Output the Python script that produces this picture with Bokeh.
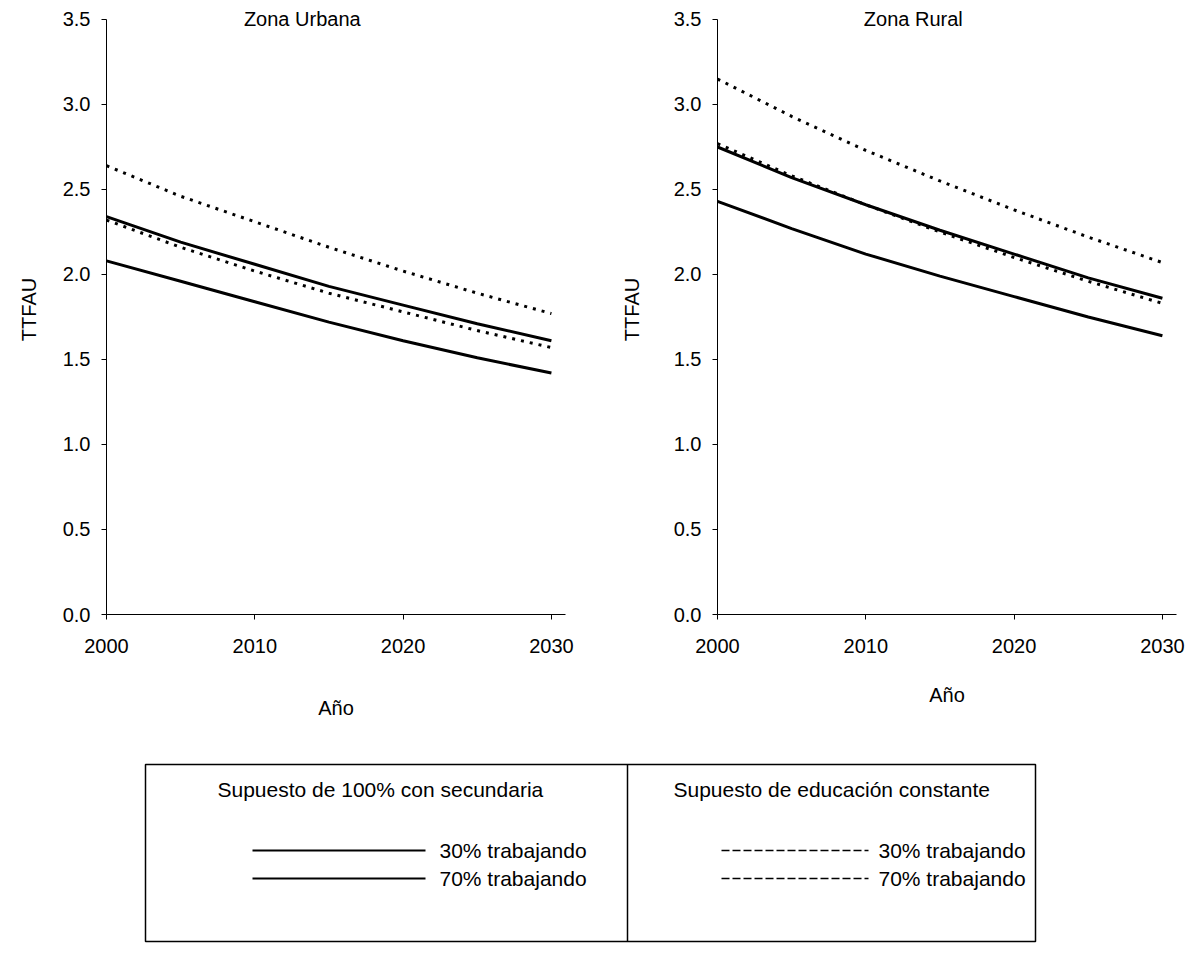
from bokeh.plotting import figure
from bokeh.models import Range1d, FixedTicker, NumeralTickFormatter, Label
from bokeh.layouts import column, row
from bokeh.embed import file_html
from bokeh.resources import INLINE
from bokeh.core.properties import value

# ---------------- data ----------------
years = [2000, 2005, 2010, 2015, 2020, 2025, 2030]

# Zona Urbana
urb_sec_30 = [2.34, 2.19, 2.06, 1.93, 1.82, 1.71, 1.61]
urb_sec_70 = [2.08, 1.96, 1.84, 1.72, 1.61, 1.51, 1.42]
urb_const_30 = [2.64, 2.46, 2.31, 2.16, 2.02, 1.89, 1.77]
urb_const_70 = [2.32, 2.16, 2.02, 1.89, 1.78, 1.67, 1.57]

# Zona Rural
rur_sec_30 = [2.75, 2.57, 2.41, 2.26, 2.12, 1.98, 1.86]
rur_sec_70 = [2.43, 2.27, 2.12, 1.99, 1.87, 1.75, 1.64]
rur_const_30 = [3.15, 2.93, 2.73, 2.55, 2.38, 2.22, 2.07]
rur_const_70 = [2.77, 2.58, 2.41, 2.25, 2.10, 1.96, 1.83]

x_ticks = [2000, 2010, 2020, 2030]
y_ticks = [0.0, 0.5, 1.0, 1.5, 2.0, 2.5, 3.0, 3.5]
panel_titles = ["Zona Urbana", "Zona Rural"]
x_title = "Año"
y_title = "TTFAU"
group_titles = ["Supuesto de 100% con secundaria", "Supuesto de educación constante"]
series_labels = ["30% trabajando", "70% trabajando"]

FONT = "Liberation Sans"


def make_panel(title, s30, s70, c30, c70, width, bl, br, ylab_standoff, xlab_standoff):
    p = figure(width=width, height=732, output_backend="svg", toolbar_location=None,
               x_range=Range1d(2000, 2030.95), y_range=Range1d(0, 3.588),
               min_border_left=bl, min_border_right=br, min_border_top=4,
               min_border_bottom=118)
    p.outline_line_color = None
    p.grid.visible = False
    p.background_fill_color = "white"
    p.border_fill_color = "white"

    p.line(years, s30, line_color="black", line_width=3)
    p.line(years, s70, line_color="black", line_width=3)
    p.line(years, c30, line_color="black", line_width=3, line_dash="3 6")
    p.line(years, c70, line_color="black", line_width=3, line_dash="3 6")

    for ax in (p.xaxis[0], p.yaxis[0]):
        ax.major_tick_in = 0
        ax.major_tick_out = 5
        ax.minor_tick_in = 0
        ax.minor_tick_out = 0
        ax.axis_line_color = "black"
        ax.major_tick_line_color = "black"
        ax.major_label_text_font = FONT
        ax.major_label_text_font_size = "20px"
        ax.major_label_text_color = "black"
        ax.axis_label_text_font = FONT
        ax.axis_label_text_font_size = "20px"
        ax.axis_label_text_font_style = "normal"
        ax.axis_label_text_color = "black"

    p.xaxis.ticker = FixedTicker(ticks=x_ticks)
    p.yaxis.ticker = FixedTicker(ticks=y_ticks)
    p.yaxis.bounds = (0, 3.5)
    p.yaxis.formatter = NumeralTickFormatter(format="0.0")
    p.xaxis.axis_label = x_title
    p.yaxis.axis_label = y_title
    p.yaxis.major_label_standoff = 11
    p.yaxis.axis_label_standoff = ylab_standoff
    p.xaxis.major_label_standoff = 19
    p.xaxis.axis_label_standoff = xlab_standoff

    p.add_layout(Label(x=2013.2, y=3.5, text=title, text_align="center",
                       text_baseline="middle", text_font=FONT,
                       text_font_size="20px", text_color="black"))
    return p


p1 = make_panel(panel_titles[0], urb_sec_30, urb_sec_70, urb_const_30, urb_const_70,
                612, 106, 47, 20, 41)
p2 = make_panel(panel_titles[1], rur_sec_30, rur_sec_70, rur_const_30, rur_const_70,
                573, 105, 9, 28, 28)

# ---------------- legend box ----------------
p3 = figure(width=1185, height=211, output_backend="svg", toolbar_location=None,
            x_range=Range1d(8, 1193), y_range=Range1d(951, 740),
            min_border=0, min_border_left=0, min_border_right=0,
            min_border_top=0, min_border_bottom=0)
p3.axis.visible = False
p3.grid.visible = False
p3.outline_line_color = None

p3.quad(left=[153], right=[1043], top=[772], bottom=[949], fill_color=None,
        line_color="black", line_width=1.5)
p3.segment(x0=[635], y0=[772], x1=[635], y1=[949], line_color="black", line_width=1.5)

p3.text(x=[225, 681], y=[797, 797], text=group_titles, text_font=value(FONT),
        text_font_size="21px", text_baseline="middle", text_align="left", text_color="black")

p3.segment(x0=[260, 260], y0=[858, 886], x1=[433, 433], y1=[858, 886],
           line_color="black", line_width=2)
p3.segment(x0=[729, 729], y0=[858, 886], x1=[876, 876], y1=[858, 886],
           line_color="black", line_width=1.5, line_dash="8 3")

p3.text(x=[447, 447], y=[858, 886], text=series_labels, text_font=value(FONT),
        text_font_size="21px", text_baseline="middle", text_align="left", text_color="black")
p3.text(x=[886, 886], y=[858, 886], text=series_labels, text_font=value(FONT),
        text_font_size="21px", text_baseline="middle", text_align="left", text_color="black")

layout = column(row(p1, p2), p3)

open("out.html", "w").write(file_html(layout, INLINE))
